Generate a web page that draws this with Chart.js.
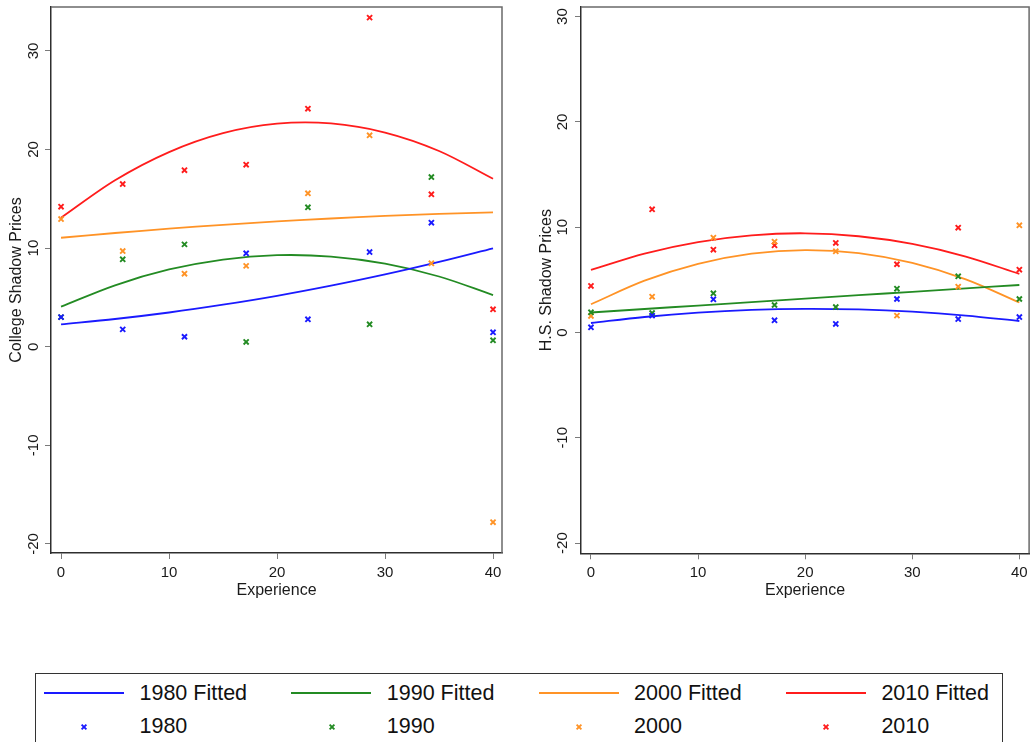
<!DOCTYPE html>
<html>
<head>
<meta charset="utf-8">
<title>Shadow Prices by Experience</title>
<script src="https://cdn.jsdelivr.net/npm/chart.js@4.4.1/dist/chart.umd.min.js"></script>
<style>
  html, body { margin: 0; padding: 0; background: #fff; overflow: hidden; }
  body { width: 1031px; height: 742px; position: relative; font-family: "Liberation Sans", Arial, sans-serif; color: #111; }
  canvas { position: absolute; top: 0; }
  #collegeChart { left: 0; }
  #hsChart { left: 520px; }
  #legendBox { position: absolute; left: 35px; top: 673px; width: 968px; height: 100px; border: 1px solid #333; box-sizing: border-box; }
  .lg-line { position: absolute; width: 80px; height: 2px; }
  .lg-text { position: absolute; font-size: 21.5px; line-height: 24px; white-space: nowrap; color: #111; }
  .lg-mark { position: absolute; width: 8px; height: 8px; }
</style>
</head>
<body>
<canvas id="collegeChart" width="510" height="600"></canvas>
<canvas id="hsChart" width="515" height="600"></canvas>
<div id="legendBox"></div>

<script>
// Experience levels at which shadow prices are observed
const experience = [0, 5.71, 11.43, 17.14, 22.86, 28.57, 34.29, 40];
// Experience levels at which the fitted curves are tabulated
const fitExperience = [0, 5, 10, 15, 20, 25, 30, 35, 40];

const years = ['1980', '1990', '2000', '2010'];
const yearColors = ['#1a1aff', '#238b23', '#ff9326', '#ff1c1c'];

const xTicks = [0, 10, 20, 30, 40];
const yTicks = [-20, -10, 0, 10, 20, 30];

// College shadow prices
const college1980 = [3.0, 1.76, 1.01, 9.47, 2.78, 9.6, 12.58, 1.46];
const college1990 = [3.0, 8.86, 10.38, 0.48, 14.14, 2.27, 17.21, 0.65];
const college2000 = [12.95, 9.7, 7.4, 8.2, 15.56, 21.44, 8.46, -17.8];
const college2010 = [14.2, 16.5, 17.9, 18.46, 24.14, 33.37, 15.46, 3.79];

const collegeFit1980 = [2.27, 2.81, 3.47, 4.26, 5.16, 6.19, 7.33, 8.60, 9.98];
const collegeFit1990 = [4.06, 6.23, 7.83, 8.84, 9.28, 9.14, 8.42, 7.12, 5.24];
const collegeFit2000 = [11.05, 11.53, 11.97, 12.36, 12.70, 13.00, 13.26, 13.47, 13.63];
const collegeFit2010 = [13.08, 16.88, 19.74, 21.66, 22.62, 22.64, 21.72, 19.85, 17.03];

// High-school shadow prices
const hs1980 = [0.49, 1.60, 3.15, 1.16, 0.81, 3.18, 1.28, 1.47];
const hs1990 = [1.92, 1.85, 3.72, 2.61, 2.42, 4.16, 5.34, 3.18];
const hs2000 = [1.57, 3.40, 9.00, 8.62, 7.71, 1.60, 4.35, 10.18];
const hs2010 = [4.42, 11.70, 7.86, 8.28, 8.50, 6.48, 9.95, 5.96];

const hsFit1980 = [0.90, 1.47, 1.89, 2.15, 2.25, 2.19, 1.98, 1.61, 1.09];
const hsFit1990 = [1.90, 2.23, 2.56, 2.88, 3.21, 3.54, 3.86, 4.19, 4.51];
const hsFit2000 = [2.68, 4.92, 6.52, 7.49, 7.83, 7.54, 6.61, 5.05, 2.85];
const hsFit2010 = [5.94, 7.50, 8.59, 9.23, 9.42, 9.14, 8.41, 7.21, 5.56];

const FONT = '"Liberation Sans", Arial, sans-serif';

function toPoints(xs, ys) {
  return xs.map((x, i) => ({ x: x, y: ys[i] }));
}

function buildDatasets(observed, fitted) {
  const sets = [];
  fitted.forEach((ys, i) => {
    sets.push({
      label: years[i] + ' Fitted',
      data: toPoints(fitExperience, ys),
      showLine: true,
      borderColor: yearColors[i],
      backgroundColor: yearColors[i],
      borderWidth: 1.8,
      pointRadius: 0,
      tension: 0.33,
      fill: false,
      order: 2
    });
  });
  observed.forEach((ys, i) => {
    sets.push({
      label: years[i],
      data: toPoints(experience, ys),
      showLine: false,
      pointStyle: 'crossRot',
      pointRadius: 3.6,
      pointBorderWidth: 1.9,
      borderColor: yearColors[i],
      backgroundColor: yearColors[i],
      order: 1
    });
  });
  return sets;
}

// Frame, rotated y tick labels and the y-axis title
const framePlugin = {
  id: 'frame',
  afterDraw(chart, args, opts) {
    const ctx = chart.ctx;
    const area = chart.chartArea;
    const ys = chart.scales.y;
    ctx.save();
    ctx.strokeStyle = '#6a6a6a';
    ctx.lineWidth = 1.5;
    ctx.beginPath();
    ctx.moveTo(area.left, area.top);
    ctx.lineTo(area.right, area.top);
    ctx.lineTo(area.right, area.bottom);
    ctx.stroke();

    ctx.fillStyle = '#1a1a1a';
    ctx.font = '15px ' + FONT;
    ctx.textAlign = 'center';
    ctx.textBaseline = 'middle';
    yTicks.forEach(v => {
      const py = ys.getPixelForValue(v);
      ctx.save();
      ctx.translate(ys.right - opts.tickOffset, py);
      ctx.rotate(-Math.PI / 2);
      ctx.fillText(String(v), 0, 0);
      ctx.restore();
    });

    ctx.font = '16px ' + FONT;
    ctx.save();
    ctx.translate(ys.right - opts.titleOffset, (area.top + area.bottom) / 2);
    ctx.rotate(-Math.PI / 2);
    ctx.fillText(opts.title, 0, 0);
    ctx.restore();
    ctx.restore();
  }
};

function makePanel(canvasId, cfg) {
  return new Chart(document.getElementById(canvasId), {
    type: 'scatter',
    data: { datasets: buildDatasets(cfg.observed, cfg.fitted) },
    plugins: [framePlugin],
    options: {
      responsive: false,
      animation: false,
      devicePixelRatio: 1,
      layout: { padding: { top: 7, right: cfg.padRight, left: 0, bottom: 0 } },
      plugins: {
        legend: { display: false },
        tooltip: { enabled: false },
        frame: { title: cfg.yTitle, tickOffset: cfg.tickOffset, titleOffset: cfg.titleOffset }
      },
      scales: {
        x: {
          type: 'linear',
          position: 'bottom',
          min: cfg.xMin,
          max: cfg.xMax,
          afterBuildTicks: s => { s.ticks = xTicks.map(v => ({ value: v })); },
          afterFit: s => { s.height = cfg.xHeight; },
          grid: { drawOnChartArea: false, drawTicks: true, tickLength: 6, color: '#7a7a7a', lineWidth: 1 },
          border: { display: true, color: '#2e2e2e', width: 1.5 },
          ticks: { color: '#1a1a1a', font: { family: FONT, size: 15 }, padding: 5, maxRotation: 0, autoSkip: false },
          title: { display: true, text: 'Experience', color: '#1a1a1a', font: { family: FONT, size: 16 }, padding: { top: 0, bottom: 0 } }
        },
        y: {
          type: 'linear',
          position: 'left',
          min: cfg.yMin,
          max: cfg.yMax,
          afterBuildTicks: s => { s.ticks = yTicks.map(v => ({ value: v })); },
          afterFit: s => { s.width = cfg.yWidth; },
          grid: { drawOnChartArea: false, drawTicks: true, tickLength: 6, color: '#7a7a7a', lineWidth: 1 },
          border: { display: true, color: '#2e2e2e', width: 1.5 },
          ticks: { display: false }
        }
      }
    }
  });
}

makePanel('collegeChart', {
  observed: [college1980, college1990, college2000, college2010],
  fitted: [collegeFit1980, collegeFit1990, collegeFit2000, collegeFit2010],
  yTitle: 'College Shadow Prices',
  xMin: -0.93, xMax: 40.83,
  yMin: -20.92, yMax: 34.45,
  yWidth: 51, xHeight: 47, padRight: 8,
  tickOffset: 17.5, titleOffset: 34.5
});

makePanel('hsChart', {
  observed: [hs1980, hs1990, hs2000, hs2010],
  fitted: [hsFit1980, hsFit1990, hsFit2000, hsFit2010],
  yTitle: 'H.S. Shadow Prices',
  xMin: -0.93, xMax: 40.91,
  yMin: -20.97, yMax: 30.91,
  yWidth: 61, xHeight: 46.7, padRight: 2.5,
  tickOffset: 18.5, titleOffset: 34
});

// Shared legend below both panels
(function buildLegend() {
  const colStep = 247.3;
  years.forEach((yr, i) => {
    const line = document.createElement('div');
    line.className = 'lg-line';
    line.style.left = (44 + colStep * i) + 'px';
    line.style.top = '691.5px';
    line.style.background = yearColors[i];
    document.body.appendChild(line);

    const t1 = document.createElement('div');
    t1.className = 'lg-text';
    t1.style.left = (139.5 + colStep * i) + 'px';
    t1.style.top = '681px';
    t1.textContent = yr + ' Fitted';
    document.body.appendChild(t1);

    const mark = document.createElementNS('http://www.w3.org/2000/svg', 'svg');
    mark.setAttribute('class', 'lg-mark');
    mark.setAttribute('viewBox', '0 0 8 8');
    mark.style.left = (84.3 + colStep * i - 4) + 'px';
    mark.style.top = (726.7 - 4) + 'px';
    mark.innerHTML = '<path d="M1.6 1.6 L6.4 6.4 M6.4 1.6 L1.6 6.4" stroke="' + yearColors[i] + '" stroke-width="1.9" fill="none"/>';
    document.body.appendChild(mark);

    const t2 = document.createElement('div');
    t2.className = 'lg-text';
    t2.style.left = (139.5 + colStep * i) + 'px';
    t2.style.top = '714.2px';
    t2.textContent = yr;
    document.body.appendChild(t2);
  });
})();
</script>
</body>
</html>
